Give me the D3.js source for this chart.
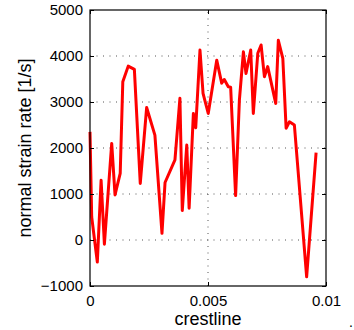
<!DOCTYPE html>
<html><head><meta charset="utf-8">
<script src="https://cdn.jsdelivr.net/npm/d3@7"></script>
<style>body{margin:0;background:#fff}svg{display:block}text{font-family:"Liberation Sans",Arial,sans-serif}</style>
</head><body>
<svg id="c" width="354" height="330"></svg>
<script>
const xs = [0,0.000072,0.00031,0.00047,0.00061,0.00092,0.00106,0.00128,0.00139,0.00162,0.00188,0.00213,0.0024,0.00275,0.00305,0.00318,0.0036,0.00381,0.00391,0.0041,0.0042,0.00438,0.00448,0.00466,0.00479,0.00501,0.00537,0.00558,0.00569,0.00586,0.00596,0.00617,0.00633,0.0065,0.00661,0.00681,0.00692,0.00711,0.00725,0.00739,0.00753,0.00787,0.00798,0.00817,0.00831,0.00845,0.00866,0.00918,0.00958];
const ys = [2350,500,-480,1300,-90,2100,980,1450,3440,3780,3710,1230,2880,2280,145,1250,1740,3080,640,2065,690,2750,2440,4130,3190,2750,3910,3410,3490,3330,3320,965,3040,4090,3620,4130,2750,4060,4240,3550,3770,2970,4340,3950,2430,2570,2500,-800,1900];
const xTicks = [0,0.005,0.01];
const xTickLabels = ["0","0.005","0.01"];
const yTicks = [-1000,0,1000,2000,3000,4000,5000];
const yTickLabels = ["\u22121000","0","1000","2000","3000","4000","5000"];
const xLabel = "crestline";
const yLabel = "normal strain rate [1/s]";

const svg = d3.select("#c");
const L=90,R=326,T=10,B=286;
const x = d3.scaleLinear().domain([0,0.01]).range([L,R]);
const y = d3.scaleLinear().domain([-1000,5000]).range([B,T]);

// grid
const g = svg.append("g");
[0,1000,2000,3000,4000].forEach(v=>{
  g.append("line").attr("x1",L).attr("x2",R).attr("y1",y(v)).attr("y2",y(v))
   .attr("stroke","#555").attr("stroke-width",1).attr("stroke-dasharray","1,5.5");
});
[0.005].forEach(v=>{
  g.append("line").attr("y1",B).attr("y2",T).attr("x1",x(v)).attr("x2",x(v))
   .attr("stroke","#555").attr("stroke-width",1).attr("stroke-dasharray","1,5.5");
});

// data line
const line = d3.line().x((d,i)=>x(xs[i])).y((d,i)=>y(ys[i]));
svg.append("path").datum(ys).attr("d",line).attr("fill","none")
  .attr("stroke","#ff0000").attr("stroke-width",3).attr("stroke-linejoin","round");

// axes
const ax = svg.append("g").attr("transform",`translate(0,${B})`)
  .call(d3.axisBottom(x).tickValues(xTicks).tickSize(-4).tickPadding(9).tickFormat((d,i)=>xTickLabels[i]));
const ay = svg.append("g").attr("transform",`translate(${L},0)`)
  .call(d3.axisLeft(y).tickValues(yTicks).tickSize(-4).tickPadding(7).tickFormat((d,i)=>yTickLabels[i]));
const at = svg.append("g").attr("transform",`translate(0,${T})`)
  .call(d3.axisTop(x).tickValues(xTicks).tickSize(-4).tickFormat(""));
const ar = svg.append("g").attr("transform",`translate(${R},0)`)
  .call(d3.axisRight(y).tickValues(yTicks).tickSize(-4).tickFormat(""));
[ax,ay,at,ar].forEach(a=>{
  a.selectAll("path").remove();
  a.selectAll("line").attr("stroke","#000");
  a.selectAll("text").attr("fill","#000").style("font-size","15px").style("font-family","'Liberation Sans',Arial,sans-serif");
});
svg.append("rect").attr("x",L).attr("y",T).attr("width",R-L).attr("height",B-T)
  .attr("fill","none").attr("stroke","#000").attr("stroke-width",1.2);

svg.append("text").attr("x",(L+R)/2).attr("y",325).attr("text-anchor","middle")
  .style("font-size","18px").text(xLabel);
svg.append("text").attr("transform",`translate(31,${(T+B)/2}) rotate(-90)`).attr("text-anchor","middle")
  .style("font-size","18px").text(yLabel);
svg.append("text").attr("x",349).attr("y",327).style("font-size","14px").text(".");
</script>
</body></html>
